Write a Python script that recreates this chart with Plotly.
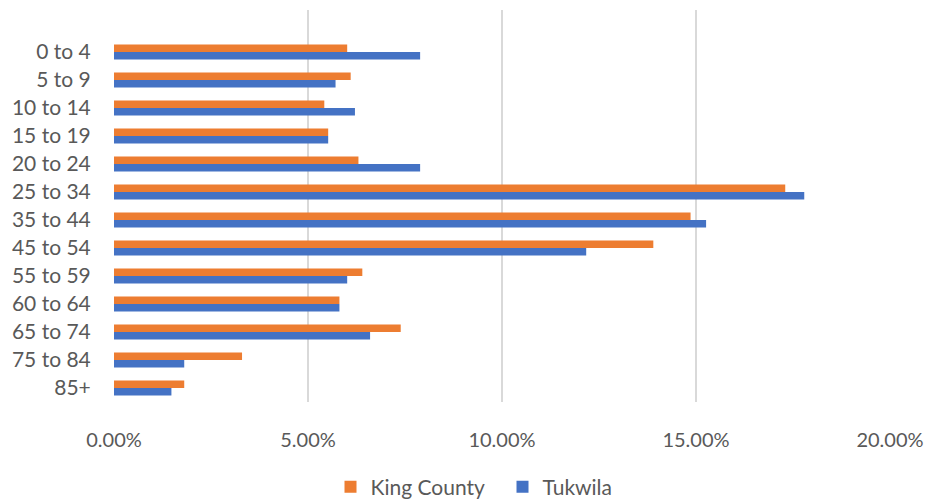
import plotly.graph_objects as go

# age groups, top to bottom
age_groups = ["0 to 4", "5 to 9", "10 to 14", "15 to 19", "20 to 24", "25 to 34",
              "35 to 44", "45 to 54", "55 to 59", "60 to 64", "65 to 74", "75 to 84", "85+"]

# share of population, percent
king_county = [6.01, 6.10, 5.42, 5.52, 6.30, 17.30, 14.86, 13.90, 6.40, 5.81, 7.39, 3.30, 1.81]
tukwila = [7.89, 5.71, 6.21, 5.52, 7.89, 17.79, 15.26, 12.17, 6.01, 5.81, 6.60, 1.81, 1.48]

x_ticks = [0, 5, 10, 15, 20]

ORANGE = "#ED7D31"
BLUE = "#4472C4"
TEXT = "#595959"
GRID = "#D9D9D9"

fig = go.Figure()
fig.add_trace(go.Bar(y=age_groups, x=king_county, name="King County", orientation="h",
                     marker=dict(color=ORANGE, line=dict(width=0))))
fig.add_trace(go.Bar(y=age_groups, x=tukwila, name="Tukwila", orientation="h",
                     marker=dict(color=BLUE, line=dict(width=0))))

# page body has an 8px margin, so the figure is sized to fit inside the window
fig.update_layout(
    width=934, height=494,
    paper_bgcolor="white", plot_bgcolor="white",
    font=dict(family="Lato, Calibri, sans-serif", size=20, color=TEXT),
    margin=dict(l=106, r=52, t=2, b=100, autoexpand=False),
    barmode="group", bargap=0.46, bargroupgap=0,
    legend=dict(orientation="h", x=0.279, xanchor="left", y=-0.217, yanchor="middle",
                entrywidth=127, entrywidthmode="pixels",
                font=dict(size=21, color=TEXT), itemclick=False),
)
fig.update_xaxes(
    range=[0, 20], tickvals=x_ticks, ticktext=[f"{v:.2f}%" for v in x_ticks],
    showgrid=True, gridcolor=GRID, gridwidth=2, zeroline=False, showline=False,
    ticks="outside", ticklen=20, tickcolor="rgba(0,0,0,0)",
    tickfont=dict(size=20, color=TEXT),
)
fig.update_yaxes(
    type="category", categoryorder="array", categoryarray=age_groups,
    range=[len(age_groups) - 0.5, -1.5],
    showgrid=False, zeroline=False, showline=False,
    ticks="outside", ticklen=18, tickcolor="rgba(0,0,0,0)",
    tickfont=dict(size=21, color=TEXT),
)

fig.write_html("out.html")
